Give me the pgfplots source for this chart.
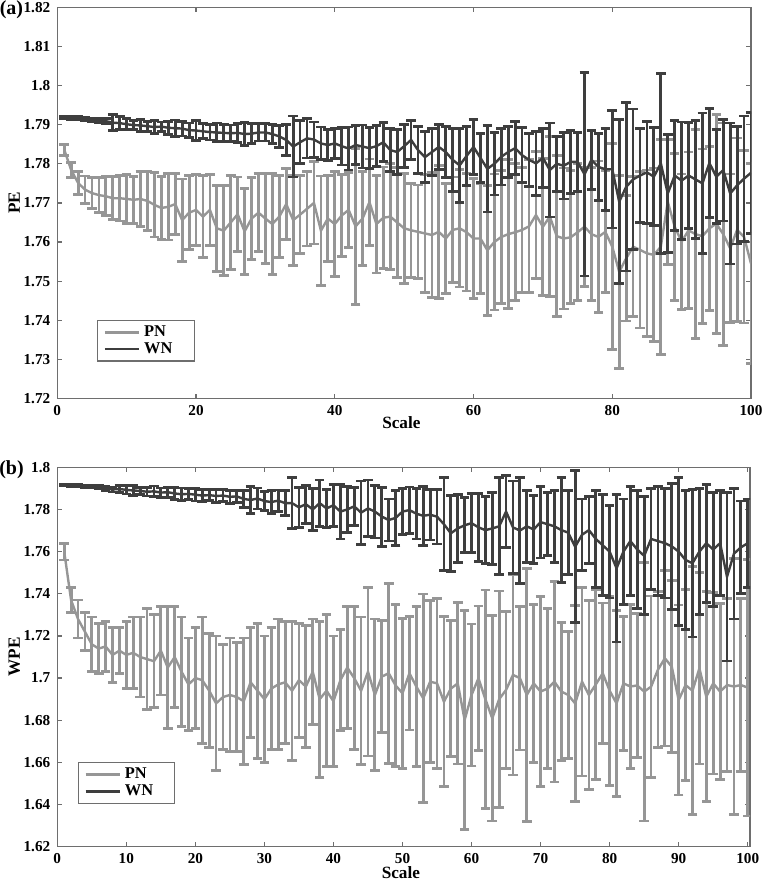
\documentclass[border=0pt]{standalone}
\usepackage{fontspec}
\setmainfont{Liberation Serif}
\usepackage{pgfplots}
\usepackage{pgfplotstable}
\pgfplotsset{compat=1.18}

\definecolor{pncol}{RGB}{150,150,150}
\definecolor{wncol}{RGB}{62,62,62}
\definecolor{framecol}{RGB}{110,110,110}

% (a) PE, pink noise
\pgfplotstableread{
x y e
1 1.7836 0.0014
2 1.7784 0.0020
3 1.7751 0.0030
4 1.7734 0.0035
5 1.7725 0.0040
6 1.7720 0.0045
7 1.7717 0.0050
8 1.7712 0.0055
9 1.7712 0.0058
10 1.7710 0.0062
11 1.7708 0.0060
12 1.7710 0.0070
13 1.7705 0.0075
14 1.7695 0.0082
15 1.7687 0.0080
16 1.7690 0.0085
17 1.7697 0.0078
18 1.7656 0.0105
19 1.7675 0.0095
20 1.7682 0.0090
21 1.7665 0.0105
22 1.7682 0.0090
23 1.7635 0.0110
24 1.7629 0.0115
25 1.7650 0.0120
26 1.7671 0.0095
27 1.7627 0.0110
28 1.7660 0.0105
29 1.7675 0.0100
30 1.7660 0.0115
31 1.7646 0.0130
32 1.7665 0.0105
33 1.7697 0.0090
34 1.7656 0.0115
35 1.7670 0.0100
36 1.7685 0.0095
37 1.7700 0.0105
38 1.7629 0.0140
39 1.7660 0.0110
40 1.7646 0.0135
41 1.7668 0.0105
42 1.7682 0.0095
43 1.7640 0.0200
44 1.7660 0.0120
45 1.7702 0.0110
46 1.7646 0.0125
47 1.7662 0.0130
48 1.7665 0.0135
49 1.7650 0.0140
50 1.7635 0.0140
51 1.7630 0.0120
52 1.7626 0.0120
53 1.7622 0.0150
54 1.7618 0.0160
55 1.7626 0.0170
56 1.7609 0.0140
57 1.7631 0.0135
58 1.7635 0.0150
59 1.7625 0.0150
60 1.7609 0.0153
61 1.7609 0.0140
62 1.7579 0.0166
63 1.7600 0.0174
64 1.7613 0.0170
65 1.7620 0.0190
66 1.7625 0.0175
67 1.7631 0.0160
68 1.7640 0.0170
69 1.7669 0.0163
70 1.7639 0.0175
71 1.7665 0.0205
72 1.7615 0.0206
73 1.7609 0.0180
74 1.7612 0.0170
75 1.7625 0.0175
76 1.7639 0.0152
77 1.7620 0.0170
78 1.7613 0.0194
79 1.7626 0.0156
80 1.7588 0.0263
81 1.7524 0.0247
82 1.7558 0.0160
83 1.7588 0.0179
84 1.7580 0.0200
85 1.7571 0.0213
86 1.7567 0.0222
87 1.7588 0.0275
88 1.7703 0.0160
89 1.7639 0.0188
90 1.7601 0.0173
91 1.7630 0.0200
92 1.7620 0.0267
93 1.7615 0.0223
94 1.7635 0.0210
95 1.7647 0.0280
96 1.7620 0.0284
97 1.7584 0.0190
98 1.7631 0.0235
99 1.7613 0.0220
100 1.7545 0.0255
}\peA

% (a) PE, white noise
\pgfplotstableread{
x y e
1 1.7918 0.0003
2 1.7917 0.0003
3 1.7916 0.0004
4 1.7914 0.0004
5 1.7912 0.0005
6 1.7910 0.0005
7 1.7909 0.0006
8 1.7905 0.0020
9 1.7904 0.0016
10 1.7901 0.0014
11 1.7899 0.0012
12 1.7898 0.0015
13 1.7896 0.0013
14 1.7894 0.0016
15 1.7895 0.0012
16 1.7892 0.0017
17 1.7891 0.0021
18 1.7890 0.0019
19 1.7886 0.0018
20 1.7885 0.0025
21 1.7883 0.0019
22 1.7881 0.0020
23 1.7880 0.0024
24 1.7879 0.0022
25 1.7878 0.0021
26 1.7879 0.0024
27 1.7876 0.0030
28 1.7877 0.0025
29 1.7880 0.0022
30 1.7880 0.0022
31 1.7876 0.0024
32 1.7870 0.0028
33 1.7861 0.0040
34 1.7844 0.0078
35 1.7855 0.0055
36 1.7865 0.0050
37 1.7862 0.0045
38 1.7852 0.0042
39 1.7848 0.0040
40 1.7852 0.0038
41 1.7845 0.0048
42 1.7839 0.0055
43 1.7848 0.0050
44 1.7844 0.0055
45 1.7840 0.0052
46 1.7845 0.0052
47 1.7855 0.0050
48 1.7835 0.0055
49 1.7830 0.0058
50 1.7845 0.0055
51 1.7861 0.0050
52 1.7835 0.0060
53 1.7817 0.0065
54 1.7830 0.0060
55 1.7843 0.0058
56 1.7830 0.0065
57 1.7810 0.0080
58 1.7796 0.0095
59 1.7820 0.0075
60 1.7843 0.0070
61 1.7815 0.0062
62 1.7787 0.0110
63 1.7800 0.0080
64 1.7818 0.0072
65 1.7830 0.0065
66 1.7840 0.0068
67 1.7822 0.0070
68 1.7810 0.0068
69 1.7801 0.0082
70 1.7815 0.0075
71 1.7784 0.0120
72 1.7800 0.0070
73 1.7795 0.0085
74 1.7805 0.0080
75 1.7805 0.0075
76 1.7773 0.0260
77 1.7810 0.0075
78 1.7792 0.0085
79 1.7786 0.0105
80 1.7786 0.0150
81 1.7703 0.0210
82 1.7741 0.0215
83 1.7760 0.0180
84 1.7770 0.0120
85 1.7778 0.0130
86 1.7767 0.0125
87 1.7801 0.0230
88 1.7724 0.0150
89 1.7770 0.0140
90 1.7757 0.0150
91 1.7770 0.0135
92 1.7760 0.0150
93 1.7750 0.0180
94 1.7802 0.0140
95 1.7767 0.0120
96 1.7784 0.0130
97 1.7724 0.0180
98 1.7745 0.0150
99 1.7762 0.0160
100 1.7777 0.0155
}\weA

% (b) WPE, pink noise
\pgfplotstableread{
x y e
1 1.7600 0.0040
2 1.7370 0.0060
3 1.7280 0.0090
4 1.7220 0.0090
5 1.7160 0.0130
6 1.7140 0.0120
7 1.7150 0.0120
8 1.7110 0.0130
9 1.7130 0.0110
10 1.7110 0.0160
11 1.7120 0.0170
12 1.7100 0.0190
13 1.7090 0.0240
14 1.7080 0.0220
15 1.7130 0.0210
16 1.7050 0.0290
17 1.7100 0.0240
18 1.7030 0.0260
19 1.6970 0.0220
20 1.7000 0.0240
21 1.6990 0.0300
22 1.6940 0.0270
23 1.6880 0.0320
24 1.6910 0.0250
25 1.6920 0.0270
26 1.6910 0.0260
27 1.6890 0.0300
28 1.6980 0.0260
29 1.6940 0.0320
30 1.6900 0.0300
31 1.6950 0.0290
32 1.6970 0.0310
33 1.6980 0.0290
34 1.6940 0.0330
35 1.6990 0.0270
36 1.6960 0.0290
37 1.7030 0.0250
38 1.6900 0.0370
39 1.6940 0.0360
40 1.6890 0.0310
41 1.6990 0.0240
42 1.7050 0.0290
43 1.7000 0.0340
44 1.6940 0.0350
45 1.7030 0.0400
46 1.6920 0.0360
47 1.7007 0.0266
48 1.7023 0.0427
49 1.6965 0.0385
50 1.6928 0.0356
51 1.7023 0.0269
52 1.6960 0.0380
53 1.6904 0.0495
54 1.6983 0.0384
55 1.6975 0.0403
56 1.6888 0.0403
57 1.6950 0.0323
58 1.6975 0.0383
59 1.6801 0.0518
60 1.6920 0.0337
61 1.6999 0.0343
62 1.6900 0.0518
63 1.6809 0.0487
64 1.6900 0.0513
65 1.6944 0.0372
66 1.7015 0.0475
67 1.7000 0.0341
68 1.6920 0.0601
69 1.6975 0.0376
70 1.6936 0.0451
71 1.6950 0.0380
72 1.6983 0.0476
73 1.6936 0.0328
74 1.6920 0.0301
75 1.6880 0.0465
76 1.6983 0.0448
77 1.6920 0.0448
78 1.6970 0.0450
79 1.7023 0.0333
80 1.6940 0.0449
81 1.6880 0.0442
82 1.6975 0.0319
83 1.6960 0.0390
84 1.6965 0.0343
85 1.6936 0.0614
86 1.6959 0.0430
87 1.7040 0.0369
88 1.7094 0.0416
89 1.7054 0.0408
90 1.6896 0.0451
91 1.6967 0.0454
92 1.6940 0.0588
93 1.7046 0.0454
94 1.6912 0.0497
95 1.6975 0.0430
96 1.6936 0.0419
97 1.6967 0.0411
98 1.6960 0.0608
99 1.6967 0.0411
100 1.6955 0.0609
}\pwB

% (b) WPE, white noise
\pgfplotstableread{
x y e
1 1.7916 0.0003
2 1.7914 0.0004
3 1.7912 0.0005
4 1.7910 0.0006
5 1.7908 0.0006
6 1.7905 0.0008
7 1.7900 0.0010
8 1.7895 0.0012
9 1.7897 0.0018
10 1.7893 0.0020
11 1.7890 0.0022
12 1.7888 0.0018
13 1.7884 0.0020
14 1.7886 0.0025
15 1.7880 0.0022
16 1.7882 0.0024
17 1.7876 0.0028
18 1.7872 0.0030
19 1.7874 0.0026
20 1.7870 0.0030
21 1.7866 0.0028
22 1.7868 0.0026
23 1.7864 0.0030
24 1.7866 0.0027
25 1.7860 0.0030
26 1.7862 0.0028
27 1.7850 0.0040
28 1.7845 0.0065
29 1.7852 0.0050
30 1.7840 0.0045
31 1.7835 0.0055
32 1.7842 0.0050
33 1.7830 0.0060
34 1.7830 0.0120
35 1.7810 0.0095
36 1.7825 0.0090
37 1.7800 0.0100
38 1.7830 0.0110
39 1.7805 0.0090
40 1.7820 0.0100
41 1.7790 0.0130
42 1.7800 0.0110
43 1.7815 0.0090
44 1.7785 0.0150
45 1.7805 0.0135
46 1.7790 0.0125
47 1.7766 0.0140
48 1.7750 0.0100
49 1.7760 0.0130
50 1.7790 0.0110
51 1.7797 0.0110
52 1.7780 0.0120
53 1.7770 0.0140
54 1.7775 0.0120
55 1.7766 0.0130
56 1.7730 0.0220
57 1.7687 0.0180
58 1.7710 0.0160
59 1.7725 0.0130
60 1.7735 0.0140
61 1.7715 0.0160
62 1.7702 0.0160
63 1.7710 0.0170
64 1.7720 0.0230
65 1.7790 0.0170
66 1.7715 0.0220
67 1.7700 0.0250
68 1.7720 0.0170
69 1.7705 0.0160
70 1.7740 0.0170
71 1.7730 0.0150
72 1.7720 0.0170
73 1.7702 0.0250
74 1.7690 0.0200
75 1.7623 0.0360
76 1.7680 0.0170
77 1.7702 0.0160
78 1.7660 0.0230
79 1.7630 0.0240
80 1.7600 0.0220
81 1.7521 0.0350
82 1.7600 0.0250
83 1.7650 0.0260
84 1.7610 0.0280
85 1.7580 0.0280
86 1.7660 0.0240
87 1.7650 0.0260
88 1.7640 0.0260
89 1.7625 0.0300
90 1.7600 0.0350
91 1.7560 0.0330
92 1.7545 0.0350
93 1.7600 0.0300
94 1.7640 0.0280
95 1.7610 0.0270
96 1.7640 0.0250
97 1.7481 0.0400
98 1.7590 0.0310
99 1.7620 0.0220
100 1.7640 0.0210
}\wwB

\pgfplotsset{
  matlab/.style={
    scale only axis,
    axis line style={framecol, line width=0.6pt},
    tick style={framecol, line width=0.6pt},
    tick align=inside,
    major tick length=2.5pt,
    ticklabel style={font=\fontsize{7.6}{9}\selectfont\bfseries},
    /pgf/number format/assume math mode=true,
    label style={font=\fontsize{8.6}{10}\selectfont\bfseries},
    no markers,
    error bars/y dir=both,
    error bars/y explicit,
    error bars/error bar style={line width=1.4pt},
    error bars/error mark options={rotate=90, mark size=2.4pt, line width=1.4pt},
    legend cell align=left,
    legend style={draw=framecol, line width=0.6pt,
      font=\fontsize{8.2}{9.5}\selectfont\bfseries,
      inner xsep=3pt, inner ysep=0.5pt, row sep=-2.5pt},
    legend image code/.code={\draw[#1, line width=1.3pt] (0pt,0pt) -- (17pt,0pt);},
  },
  pnplot/.style={color=pncol, line width=1.2pt},
  wnplot/.style={color=wncol, line width=1.2pt},
}

\begin{document}
\begin{tikzpicture}
\useasboundingbox (0,0) rectangle (380.5pt,-442pt);

\begin{axis}[matlab,
  at={(28.65pt,-3.65pt)}, anchor=north west,
  width=346.85pt, height=195.6pt,
  xmin=0, xmax=100, ymin=1.72, ymax=1.82,
  xtick={0,20,40,60,80,100},
  ytick={1.72,1.73,1.74,1.75,1.76,1.77,1.78,1.79,1.80,1.81,1.82},
  xlabel={Scale}, ylabel={PE},
  xlabel style={at={(axis description cs:0.496,-0.027)}, anchor=north},
  ylabel style={at={(axis description cs:-0.062,0.5)}, anchor=center},
  legend style={at={(axis description cs:0.0572,0.2007)}, anchor=north west},
]
\addplot+[pnplot] table[x=x, y=y, y error=e] {\peA};
\addplot+[wnplot] table[x=x, y=y, y error=e] {\weA};
\legend{\makebox[20pt][l]{PN}, \makebox[20pt][l]{WN}}
\end{axis}

\begin{axis}[matlab,
  at={(28.65pt,-233.65pt)}, anchor=north west,
  width=346.35pt, height=189.7pt,
  xmin=0, xmax=100.33, ymin=1.62, ymax=1.80,
  xtick={0,10,...,100},
  ytick={1.62,1.64,1.66,1.68,1.70,1.72,1.74,1.76,1.78,1.80},
  xlabel={Scale}, ylabel={WPE},
  xlabel style={at={(axis description cs:0.496,-0.033)}, anchor=north},
  ylabel style={at={(axis description cs:-0.062,0.5)}, anchor=center},
  legend style={at={(axis description cs:0.0294,0.2232)}, anchor=north west},
]
\addplot+[pnplot] table[x=x, y=y, y error=e] {\pwB};
\addplot+[wnplot] table[x=x, y=y, y error=e] {\wwB};
\legend{\makebox[20pt][l]{PN}, \makebox[20pt][l]{WN}}
\end{axis}

\node[font=\fontsize{10}{12}\selectfont\bfseries] at (5.75pt,-5pt) {(a)};
\node[font=\fontsize{10}{12}\selectfont\bfseries] at (5.75pt,-235pt) {(b)};
\end{tikzpicture}
\end{document}
